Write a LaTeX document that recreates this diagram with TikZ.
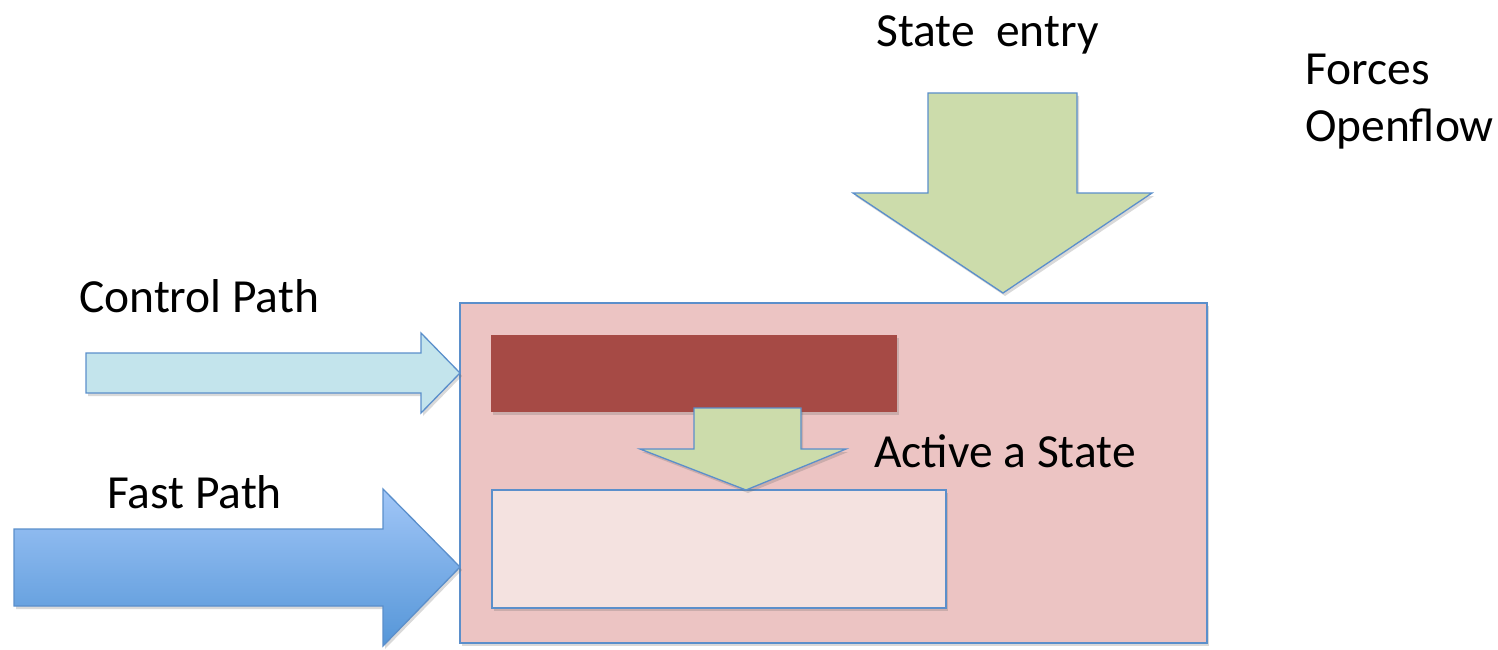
\documentclass[tikz,border=0pt]{standalone}
\usepackage{fontspec}
\setmainfont{Carlito}
\usetikzlibrary{shadows}
\definecolor{edgeblue}{HTML}{5B8FCB}
\definecolor{ctrlfill}{HTML}{C3E4EC}
\definecolor{fasttop}{HTML}{A1C6F7}
\definecolor{fastbot}{HTML}{5596D8}
\definecolor{boxfill}{HTML}{ECC4C3}
\definecolor{barfill}{HTML}{A64A45}
\definecolor{tablefill}{HTML}{F4E2E0}
\definecolor{greenfill}{HTML}{CCDCAB}
\tikzset{
  shade/.style={drop shadow={shadow xshift=2pt,shadow yshift=-3pt,opacity=0.25,fill=black!60}},
  outline/.style={draw=edgeblue,line width=1.3pt,line join=miter},
  label/.style={font=\fontsize{47.5}{58}\selectfont,anchor=base west,inner sep=0pt}
}
\begin{document}
\begin{tikzpicture}[x=1pt,y=-1pt]
\useasboundingbox (0,0) rectangle (1498,650);

% processing element
\draw[outline,fill=boxfill,shade] (460,303) rectangle (1207,643);
\fill[barfill,shade] (491,335) rectangle (897,412);
\draw[outline,fill=tablefill,shade] (492,490) rectangle (946,608);

% state entry arrow
\draw[outline,fill=greenfill,shade]
  (928,93) -- (1077,93) -- (1077,193) -- (1152,193) -- (1003,293)
  -- (853,193) -- (928,193) -- cycle;

% internal activation arrow
\draw[outline,fill=greenfill,shade]
  (694,408) -- (801,408) -- (801,449) -- (846,449) -- (746,490)
  -- (640,449) -- (694,449) -- cycle;

% control path arrow
\draw[outline,fill=ctrlfill,shade]
  (86,353) -- (421,353) -- (421,333) -- (460,373) -- (421,413)
  -- (421,393) -- (86,393) -- cycle;

% fast path arrow
\draw[outline,top color=fasttop,bottom color=fastbot,shade]
  (14,529) -- (383,529) -- (383,489) -- (460,567) -- (383,646)
  -- (383,606) -- (14,606) -- cycle;

% labels
\node[label] (entry) at (876,47) {State\ \ entry};
\node[label] (forces) at (1305,85) {Forces};
\node[label] (openflow) at (1305,142) {Openflow};
\node[label] (ctrl) at (79,312) {Control Path};
\node[label] (fast) at (107,508) {Fast Path};
\node[label] (active) at (874,467) {Active a State};
\end{tikzpicture}
\end{document}
